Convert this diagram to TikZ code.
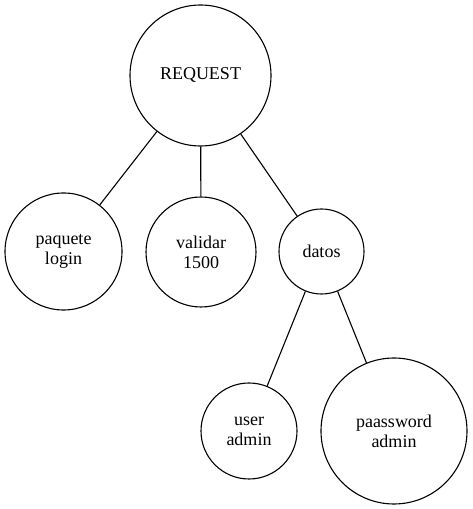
\documentclass[tikz,border=0pt]{standalone}
\usepackage{fontspec}
\setmainfont{Liberation Serif}
\tikzset{
	treenode/.style = {
		circle,
		align=center,
		inner sep=0pt,
		draw=black,
		line width=1.1pt,
		font=\fontsize{18}{20}\selectfont
	},
	node_r/.style = {
		treenode,
		minimum size=#1
	},
	edge_t/.style = {
		draw=black,
		line width=1.1pt
	},
}
\begin{document}
\begin{tikzpicture}[x=1pt,y=1pt]
\useasboundingbox (0,0) rectangle (472,509);
\node [node_r=141pt] (request) at (200.5,433.5) {REQUEST};
\node [node_r=117pt] (paquete) at (63.5,257.5) {paquete\\login};
\node [node_r=110pt] (validar) at (201,257) {validar\\1500};
\node [node_r=85pt] (datos) at (321.5,257.5) {datos};
\node [node_r=96pt] (user) at (249,78) {user\\admin};
\node [node_r=146pt] (password) at (394,78) {paassword\\admin};
\draw [edge_t] (request) -- (paquete);
\draw [edge_t] (request) -- (validar);
\draw [edge_t] (request) -- (datos);
\draw [edge_t] (datos) -- (user);
\draw [edge_t] (datos) -- (password);
\end{tikzpicture}
\end{document}
